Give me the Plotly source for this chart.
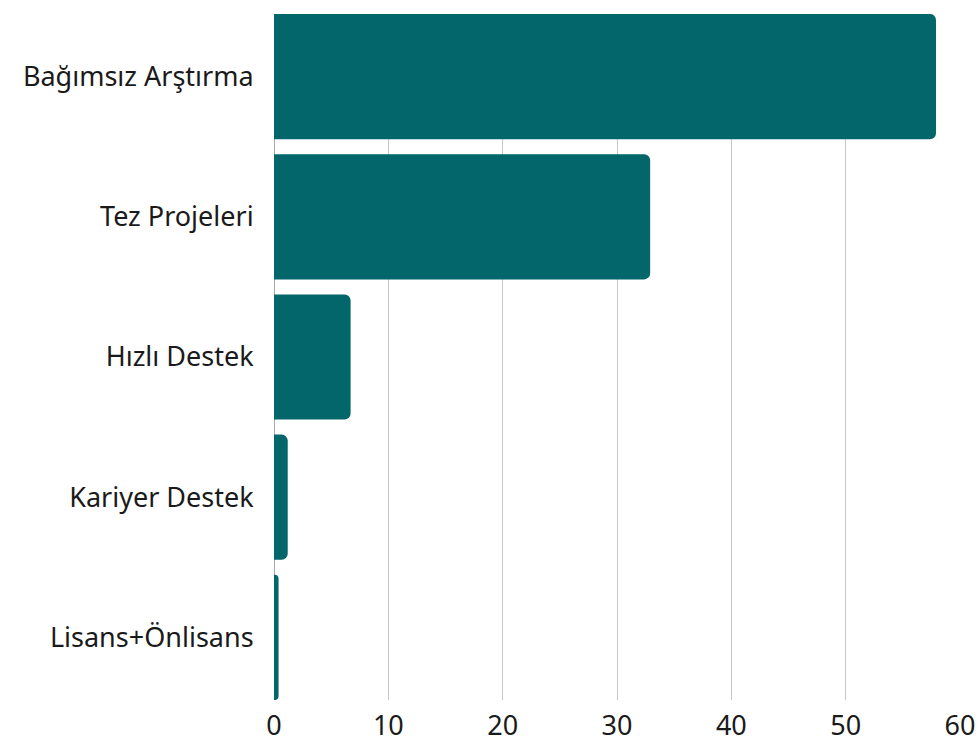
import plotly.graph_objects as go

categories = ["Bağımsız Arştırma", "Tez Projeleri", "Hızlı Destek", "Kariyer Destek", "Lisans+Önlisans"]
values = [57.9, 32.9, 6.7, 1.2, 0.4]
x_ticks = [0, 10, 20, 30, 40, 50, 60]

fig = go.Figure(go.Bar(
    y=categories,
    x=values,
    orientation="h",
    marker=dict(color="#02666A", line=dict(width=0)),
    hoverinfo="x+y",
))

fig.update_layout(
    width=980, height=742,
    margin=dict(l=274, r=20, t=14, b=42, autoexpand=False),
    paper_bgcolor="white", plot_bgcolor="white",
    bargap=0.107,
    barcornerradius=6,
    showlegend=False,
    font=dict(family="Noto Sans", size=22, color="#1a1a1a"),
)
fig.update_xaxes(
    range=[0, 60], tickvals=x_ticks, automargin=False,
    showgrid=True, gridcolor="#c8c8c8", gridwidth=1,
    zeroline=True, zerolinecolor="#aaaaaa", zerolinewidth=1,
    tickfont=dict(size=27, color="#1a1a1a"),
    ticks="outside", ticklen=2, tickcolor="rgba(0,0,0,0)", showline=False,
)
fig.update_yaxes(
    categoryorder="array", categoryarray=categories[::-1],
    range=[-0.446, 4.446], automargin=False,
    showgrid=False, zeroline=False, showline=False,
    ticks="outside", ticklen=14, tickcolor="rgba(0,0,0,0)",
    tickfont=dict(size=27, color="#1a1a1a"),
)

fig.write_html(
    "out.html",
    config={"displayModeBar": False},
    post_script="document.body.style.margin='0';document.body.style.overflow='hidden';",
)
